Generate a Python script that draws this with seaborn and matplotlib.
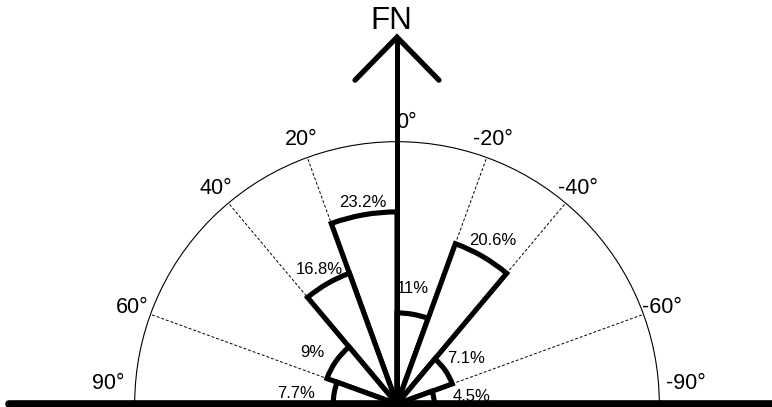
import numpy as np
import matplotlib
matplotlib.use('Agg')
import matplotlib.pyplot as plt
from matplotlib.patches import Wedge, Arc
import seaborn as sns

# Angular bins (degrees from north, positive = to the left) and frequency (%)
bin_start = [0, 20, 40, 70, 0, -20, -40, -70]
bin_end = [20, 40, 70, 90, -20, -40, -70, -90]
percent = [23.2, 16.8, 9.0, 7.7, 11.0, 20.6, 7.1, 4.5]
pct_labels = ['23.2%', '16.8%', '9%', '7.7%', '11%', '20.6%', '7.1%', '4.5%']

# Dashed guide directions and the angle labels around the rim
grid_angles = [20, 40, 70, -20, -40, -70]
tick_angles = [86, 70, 40, 20, -2, -20, -40, -70, -86]
tick_labels = ['90°', '60°', '40°', '20°', '0°', '-20°', '-40°', '-60°', '-90°']

# label placement (layout only)
pct_label_angle = [9.6, 29.9, 58.6, 84, -7.9, -30.3, -56.4, -84]
pct_label_pad = [1.45, 1.93, 3.0, 4.6, 3.1, 2.25, 2.9, 4.6]

sns.set_theme(style='white')
plt.rcParams['font.family'] = ['Liberation Sans', 'DejaVu Sans']
plt.rcParams['text.color'] = 'black'

W, H = 772, 407
S = 8.28            # pixels per percent
cx, cy = 397, 404   # pole position in pixels (from top-left)
R_OUTER = 31.68
R_TICK = 34.0

fig = plt.figure(figsize=(W / 100, H / 100), dpi=100)
ax = fig.add_axes([0, 0, 1, 1])
ax.set_xlim(-cx / S, (W - cx) / S)
ax.set_ylim(-(H - cy) / S, cy / S)
ax.axis('off')


def to_xy(angle, r):
    a = np.deg2rad(angle)
    return -r * np.sin(a), r * np.cos(a)


# outer rim
ax.add_patch(Arc((0, 0), 2 * R_OUTER, 2 * R_OUTER, theta1=0, theta2=180,
                 color='black', lw=0.8, zorder=1))

# dashed guides
for a in grid_angles:
    x, y = to_xy(a, R_OUTER)
    ax.plot([0, x], [0, y], color='black', lw=0.7, ls=(0, (3, 2)), zorder=1)

# rim labels
for a, lab in zip(tick_angles, tick_labels):
    r = R_TICK + (1.0 if abs(a) > 80 else 0)
    x, y = to_xy(a, r)
    ax.text(x, y, lab, fontsize=15.5, color='black', ha='center', va='center', zorder=2)

# rose wedges
for a0, a1, p in zip(bin_start, bin_end, percent):
    t1, t2 = sorted([90 + a0, 90 + a1])
    ax.add_patch(Wedge((0, 0), p, t1, t2, facecolor='white',
                       edgecolor='black', lw=3.7, joinstyle='miter', zorder=3))

# percentage labels
for a, p, pad, lab in zip(pct_label_angle, percent, pct_label_pad, pct_labels):
    x, y = to_xy(a, p + pad)
    ax.text(x, y, lab, fontsize=12, color='black', ha='center', va='center', zorder=4)

# north arrow
tip = 44.3
ax.plot([0, 0], [0, tip], color='black', lw=3.6, solid_capstyle='butt', zorder=5)
ax.plot([-5.07, 0, 5.07], [tip - 5.19, tip, tip - 5.19], color='black', lw=3.8,
        solid_capstyle='round', solid_joinstyle='miter', zorder=5)
ax.text(-0.65, 46.2, 'FN', fontsize=22.5, color='black', ha='center', va='center', zorder=5)

# base line
ax.plot([-46.8, W / S], [0, 0], color='black', lw=5.5, solid_capstyle='round', zorder=6)

fig.savefig('out.png', dpi=100)
